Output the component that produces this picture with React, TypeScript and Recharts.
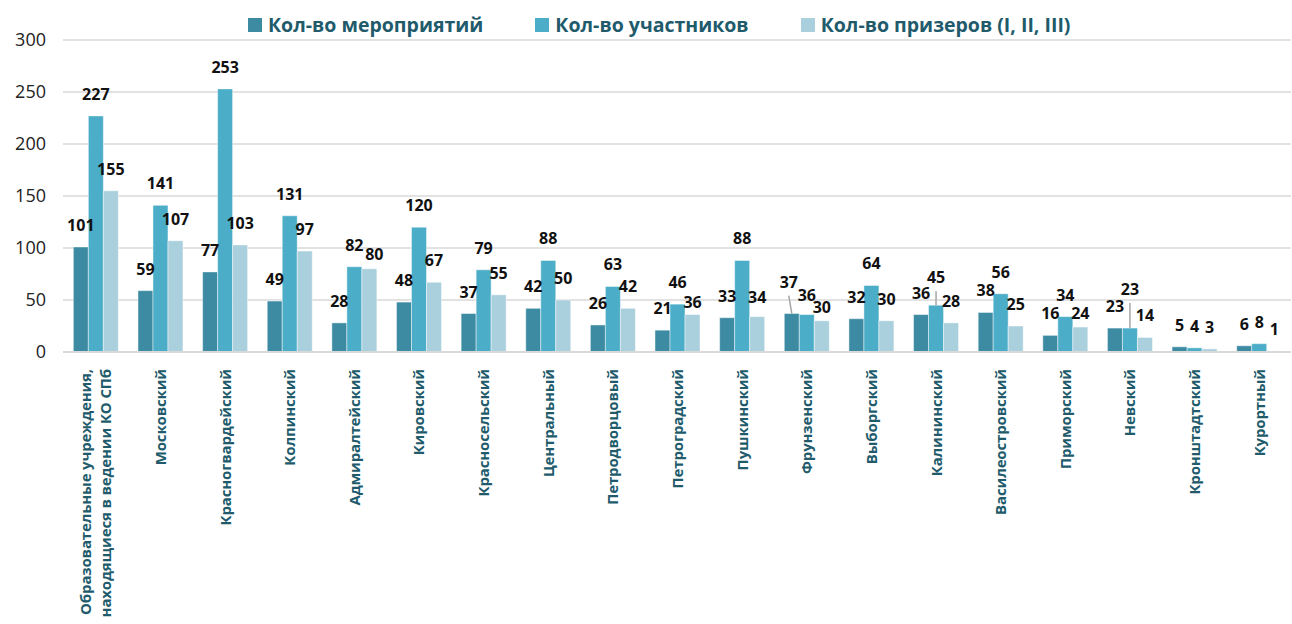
import React from 'react';
import { BarChart, Bar, XAxis, YAxis, CartesianGrid, LabelList } from 'recharts';

const districts = [
  'Образовательные учреждения, находящиеся в ведении КО СПб',
  'Московский',
  'Красногвардейский',
  'Колпинский',
  'Адмиралтейский',
  'Кировский',
  'Красносельский',
  'Центральный',
  'Петродворцовый',
  'Петроградский',
  'Пушкинский',
  'Фрунзенский',
  'Выборгский',
  'Калининский',
  'Василеостровский',
  'Приморский',
  'Невский',
  'Кронштадтский',
  'Курортный',
];

const events = [101, 59, 77, 49, 28, 48, 37, 42, 26, 21, 33, 37, 32, 36, 38, 16, 23, 5, 6];
const participants = [227, 141, 253, 131, 82, 120, 79, 88, 63, 46, 88, 36, 64, 45, 56, 34, 23, 4, 8];
const prizes = [155, 107, 103, 97, 80, 67, 55, 50, 42, 36, 34, 30, 30, 28, 25, 24, 14, 3, 1];

const yTicks = [0, 50, 100, 150, 200, 250, 300];

const seriesNames = {
  events: 'Кол-во мероприятий',
  participants: 'Кол-во участников',
  prizes: 'Кол-во призеров (I, II, III)',
};

const COLORS = {
  events: '#3d8ba2',
  participants: '#4badc7',
  prizes: '#aacfdd',
};

const FONT = '"Open Sans", "Noto Sans", sans-serif';
const TEXT_TEAL = '#215b6b';

// labels that Excel nudged off the default spot (px up, leader line when lifted)
const labelLift: Record<string, { lift: number; dx?: number }> = {
  'prizes-4': { lift: -7, dx: 5 },
  'prizes-9': { lift: -9 },
  'prizes-10': { lift: -2 },
  'events-11': { lift: 10, dx: -3 },
  'participants-11': { lift: -2 },
  'prizes-11': { lift: -8 },
  'participants-13': { lift: 6 },
  'prizes-15': { lift: -8 },
  'participants-16': { lift: 17 },
};

const data = districts.map((name, i) => ({
  name,
  events: events[i],
  participants: participants[i],
  prizes: prizes[i],
}));

const makeLabel = (key: string) => (props: any) => {
  const { x, y, width, value, index } = props;
  const cx = x + width / 2;
  const adj = labelLift[`${key}-${index}`];
  const lift = adj ? adj.lift : 0;
  const dx = adj && adj.dx ? adj.dx : 0;
  const baseline = y - 16 - lift;
  return (
    <g>
      {lift >= 5 && (
        <line x1={cx + dx} y1={baseline + 8} x2={cx} y2={y} stroke="#a6a6a6" strokeWidth={1.5} />
      )}
      <text
        x={cx + dx}
        y={baseline}
        textAnchor="middle"
        fontFamily={FONT}
        fontWeight={700}
        fontSize={16}
        fill="#111"
      >
        {value}
      </text>
    </g>
  );
};

const DistrictTick = (props: any) => {
  const { x, y, payload } = props;
  const text: string = payload.value;
  const lines = text.includes(', ')
    ? [text.slice(0, text.indexOf(', ') + 1), text.slice(text.indexOf(', ') + 2)]
    : [text];
  const lineH = 20;
  const start = -((lines.length - 1) * lineH) / 2;
  return (
    <g transform={`translate(${x},${y + 9})`}>
      <text
        transform="rotate(-90)"
        textAnchor="end"
        fontFamily={FONT}
        fontWeight={700}
        fontSize={15}
        letterSpacing={-0.15}
        fill={TEXT_TEAL}
      >
        {lines.map((ln, i) => (
          <tspan key={i} x={0} y={start + i * lineH + 6}>
            {ln}
          </tspan>
        ))}
      </text>
    </g>
  );
};

const LegendRow = () => (
  <div
    style={{
      position: 'absolute',
      left: 248,
      top: 11,
      display: 'flex',
      alignItems: 'center',
      gap: 52,
      fontFamily: FONT,
      fontWeight: 700,
      fontSize: 19.5,
      lineHeight: '28px',
      color: TEXT_TEAL,
      whiteSpace: 'nowrap',
    }}
  >
    {(['events', 'participants', 'prizes'] as const).map((k) => (
      <div key={k} style={{ display: 'flex', alignItems: 'center' }}>
        <span style={{ width: 14, height: 14, background: COLORS[k], marginRight: 6, display: 'inline-block' }} />
        <span>{seriesNames[k]}</span>
      </div>
    ))}
  </div>
);

export default function App() {
  return (
    <div style={{ position: 'absolute', left: 0, top: 0, width: 1292, height: 624, background: '#fff' }}>
      <LegendRow />
      <BarChart
        width={1292}
        height={624}
        data={data}
        margin={{ top: 40, right: 1, bottom: 0, left: 0 }}
        barCategoryGap="16%"
        barGap={0}
      >
        <CartesianGrid vertical={false} stroke="#d9d9d9" strokeWidth={1.5} />
        <XAxis
          dataKey="name"
          interval={0}
          height={272}
          tickLine={false}
          axisLine={{ stroke: '#d9d9d9', strokeWidth: 2 }}
          tick={<DistrictTick />}
        />
        <YAxis
          domain={[0, 300]}
          ticks={yTicks}
          width={63}
          axisLine={false}
          tickLine={false}
          tickSize={0}
          tickMargin={17}
          tick={{ fontFamily: FONT, fontSize: 18, fill: '#222' }}
        />
        {(['events', 'participants', 'prizes'] as const).map((k) => (
          <Bar
            key={k}
            dataKey={k}
            name={seriesNames[k]}
            fill={COLORS[k]}
            stroke="rgba(255,255,255,0.45)"
            strokeWidth={1}
            isAnimationActive={false}
          >
            <LabelList dataKey={k} content={makeLabel(k)} />
          </Bar>
        ))}
      </BarChart>
    </div>
  );
}
